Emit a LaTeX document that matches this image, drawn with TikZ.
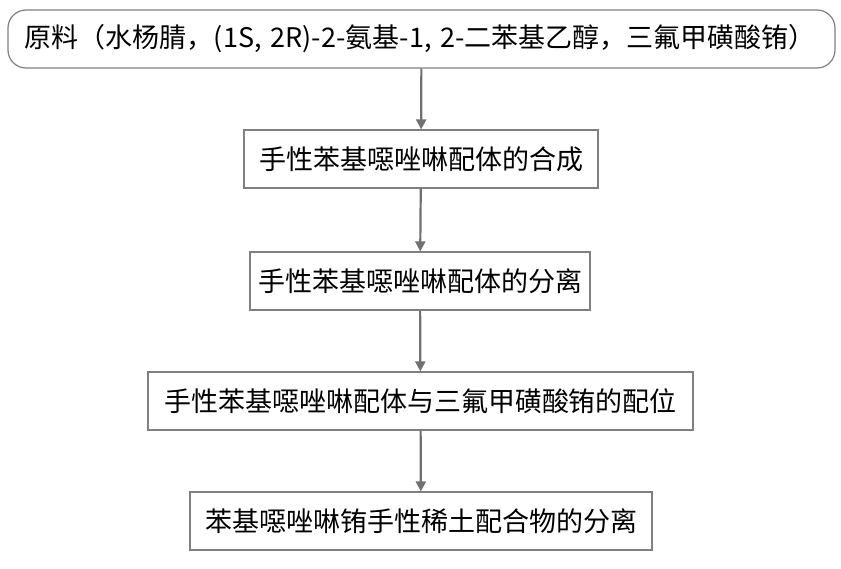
\documentclass[tikz,border=0pt]{standalone}
\usepackage{fontspec}
\newfontfamily\cjk{Noto Sans CJK SC}
\usetikzlibrary{arrows.meta}
\definecolor{bord}{HTML}{808080}
\definecolor{arr}{HTML}{707070}
\tikzset{
  box/.style={draw=bord, line width=1.2pt, fill=white, inner sep=0pt, font=\cjk\fontsize{27pt}{30pt}\selectfont, minimum height=58pt},
  conn/.style={draw=arr, line width=2.2pt, -{Triangle[length=10pt,width=10pt]}}
}
\begin{document}
\begin{tikzpicture}[x=1pt,y=-1pt]
\useasboundingbox[fill=white] (0,0) rectangle (841,568);
\node[box, rounded corners=18pt, minimum width=827pt, text width=827pt, align=left, inner xsep=0pt] (a) at (421.5,39) {\hspace*{17pt}原料（水杨腈，(1S, 2R)-2-氨基-1, 2-二苯基乙醇，三氟甲磺酸铕）};
\node[box, minimum width=354pt] (b) at (421,159) {手性苯基噁唑啉配体的合成};
\node[box, minimum width=340pt] (c) at (420,281) {手性苯基噁唑啉配体的分离};
\node[box, minimum width=545pt] (d) at (420.5,401) {手性苯基噁唑啉配体与三氟甲磺酸铕的配位};
\node[box, minimum width=462pt] (e) at (421,521) {苯基噁唑啉铕手性稀土配合物的分离};
\draw[conn] (a) -- (b);
\draw[conn] (b) -- (c);
\draw[conn] (c) -- (d);
\draw[conn] (d) -- (e);
\end{tikzpicture}
\end{document}
